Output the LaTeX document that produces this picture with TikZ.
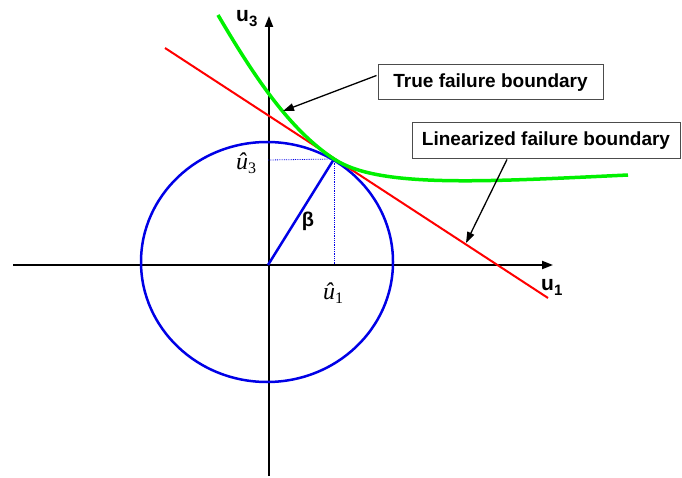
\documentclass[tikz,border=0pt]{standalone}
\usepackage{fontspec}
\setmainfont{Liberation Sans}
\newfontfamily\timesfont{Liberation Serif}
\usetikzlibrary{arrows.meta,calc}
\definecolor{bndgreen}{RGB}{0,240,0}
\definecolor{bndred}{RGB}{255,0,0}
\definecolor{circblue}{RGB}{0,0,230}
\newcommand{\hatu}[1]{{\timesfont\fontsize{24}{26}\selectfont\itshape û}\raisebox{-4pt}{\timesfont\fontsize{16}{16}\selectfont #1}}
\begin{document}
\begin{tikzpicture}[x=1pt,y=-1pt,
  axis/.style={line width=2pt,-{Triangle[length=11pt,width=8pt]}},
  callout/.style={line width=1.3pt,-{Triangle[length=11pt,width=7.5pt]}},
  labelbox/.style={draw=black!70,line width=1pt,fill=white,inner sep=0pt,
    font=\fontsize{19}{22}\selectfont\bfseries},
  guide/.style={circblue,line width=0.8pt,densely dotted},
  axlabel/.style={inner sep=0pt,font=\fontsize{21}{24}\selectfont\bfseries},
  hatlabel/.style={inner sep=0pt}]
\useasboundingbox (0,0) rectangle (682,478);
\coordinate (O) at (268,265);
\coordinate (P) at (334,159);
\coordinate (xs) at (13,265);
\coordinate (xe) at (553,265);
\coordinate (ys) at (269,476);
\coordinate (ye) at (269,16);
% axes
\draw[axis] (xs) -- (xe);
\draw[axis] (ys) -- (ye);
% circle
\draw[circblue,line width=2.5pt] (267,262) ellipse [x radius=126,y radius=120];
% guides
\draw[guide] (268,160) -- (P);
\draw[guide] (P) -- (334,265);
% radius
\draw[circblue,line width=2.5pt] (O) -- (P);
% linearized boundary
\coordinate (ra) at (165,48);
\coordinate (rb) at (548,298);
\draw[bndred,line width=2pt] (ra) -- (rb);
% true boundary
\coordinate (ga) at (218,15);
\coordinate (gb) at (628,175);
\draw[bndgreen,line width=3.5pt] (ga) .. controls (255,78) and (290,130) .. (P)
  .. controls (378,188) and (480,182) .. (gb);
% labels
\node[axlabel,anchor=base west] (u3) at (236,22) {u\raisebox{-5pt}{\fontsize{15}{15}\selectfont\bfseries 3}};
\node[axlabel,anchor=base west] (u1) at (541,290) {u\raisebox{-5pt}{\fontsize{15}{15}\selectfont\bfseries 1}};
\node[hatlabel,anchor=base west] (uh3) at (236,170) {\hatu{3}};
\node[hatlabel,anchor=base west] (uh1) at (323,299) {\hatu{1}};
\node[inner sep=0pt,font=\fontsize{20}{22}\selectfont\bfseries] (beta) at (308,221) {β};
% boxes
\node[labelbox,minimum width=225pt,minimum height=35pt] (box1) at (490.5,82.5) {True failure boundary};
\node[labelbox,minimum width=268pt,minimum height=36pt] (box2) at (546,141) {Linearized failure boundary};
\coordinate (t1) at (283,111);
\coordinate (t2) at (466,243);
\draw[callout] ($(box1.west)+(-1,-7)$) -- (t1);
\draw[callout] ($(box2.south)+(-39,0)$) -- (t2);
\end{tikzpicture}
\end{document}
